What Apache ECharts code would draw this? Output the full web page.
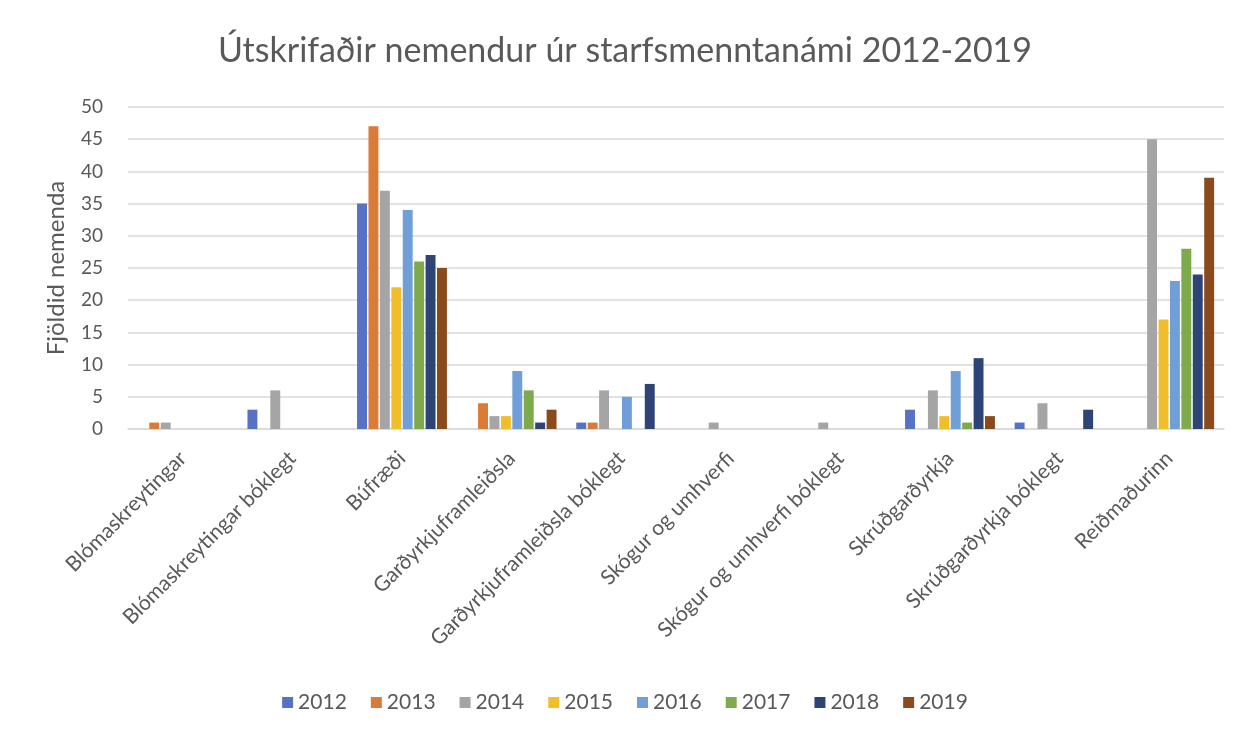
<!DOCTYPE html>
<html>
<head>
<meta charset="utf-8">
<script src="https://cdn.jsdelivr.net/npm/echarts@6/dist/echarts.min.js"></script>
<style>
  html, body { margin: 0; padding: 0; background: #fff; }
  #chart { width: 1250px; height: 740px; }
</style>
</head>
<body>
<div id="chart"></div>
<script>
const categories = [
  'Blómaskreytingar', 'Blómaskreytingar bóklegt', 'Búfræði', 'Garðyrkjuframleiðsla',
  'Garðyrkjuframleiðsla bóklegt', 'Skógur og umhverfi', 'Skógur og umhverfi bóklegt',
  'Skrúðgarðyrkja', 'Skrúðgarðyrkja bóklegt', 'Reiðmaðurinn'
];
const years = ['2012', '2013', '2014', '2015', '2016', '2017', '2018', '2019'];
const yearColors = ['#5572C4', '#DA7B37', '#A5A5A5', '#F1BE2B', '#709FD7', '#7EAA4E', '#2F4476', '#8A4A1C'];

// one array per year, in category order (null = no bar)
const v2012 = [null, 3, 35, null, 1, null, null, 3, 1, null];
const v2013 = [1, null, 47, 4, 1, null, null, null, null, null];
const v2014 = [1, 6, 37, 2, 6, 1, 1, 6, 4, 45];
const v2015 = [null, null, 22, 2, null, null, null, 2, null, 17];
const v2016 = [null, null, 34, 9, 5, null, null, 9, null, 23];
const v2017 = [null, null, 26, 6, null, null, null, 1, null, 28];
const v2018 = [null, null, 27, 1, 7, null, null, 11, 3, 24];
const v2019 = [null, null, 25, 3, null, null, null, 2, null, 39];
const values = [v2012, v2013, v2014, v2015, v2016, v2017, v2018, v2019];

const textColor = '#595959';
const font = 'Lato, sans-serif';
const chart = echarts.init(document.getElementById('chart'));

chart.setOption({
  animation: false,
  textStyle: { fontFamily: font },
  title: {
    text: 'Útskrifaðir nemendur úr starfsmenntanámi 2012-2019',
    left: 'center',
    top: 29,
    textStyle: { fontSize: 34, fontWeight: 'normal', color: textColor, fontFamily: font }
  },
  legend: {
    bottom: 22,
    left: 'center',
    itemWidth: 11,
    itemHeight: 11,
    itemGap: 24,
    icon: 'rect',
    textStyle: { fontSize: 21, color: textColor, fontFamily: font },
    data: years
  },
  grid: { left: 128, right: 26, top: 107, bottom: 311, containLabel: false },
  xAxis: {
    type: 'category',
    data: categories,
    axisLine: { lineStyle: { color: '#d9d9d9', width: 1.5 } },
    axisTick: { show: false },
    axisLabel: {
      rotate: 45,
      interval: 0,
      fontSize: 21,
      color: textColor,
      fontFamily: font,
      margin: 26
    }
  },
  yAxis: {
    type: 'value',
    min: 0,
    max: 50,
    interval: 5,
    name: 'Fjöldid nemenda',
    nameLocation: 'middle',
    nameGap: 60,
    nameRotate: 90,
    nameTextStyle: { fontSize: 24, color: textColor, fontFamily: font },
    axisLine: { show: false },
    axisTick: { show: false },
    axisLabel: { fontSize: 19, color: textColor, fontFamily: font, margin: 25 },
    splitLine: { lineStyle: { color: '#d9d9d9', width: 1.5 } }
  },
  series: years.map((y, i) => ({
    name: y,
    type: 'bar',
    data: values[i],
    barGap: '15%',
    barCategoryGap: '18%',
    itemStyle: { color: yearColors[i] }
  }))
});
</script>
</body>
</html>
